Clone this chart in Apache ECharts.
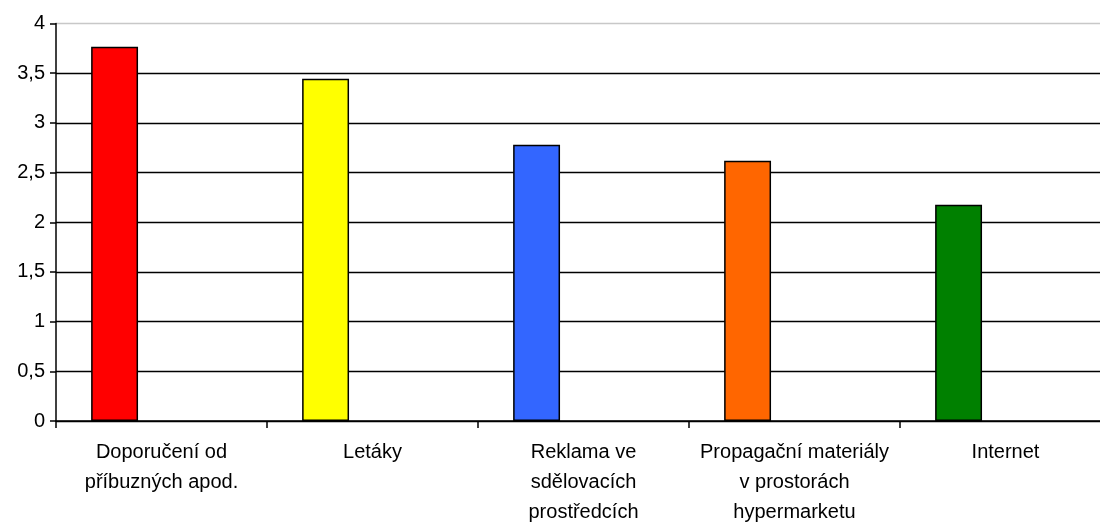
<!DOCTYPE html>
<html>
<head>
<meta charset="utf-8">
<script src="https://cdn.jsdelivr.net/npm/echarts@6/dist/echarts.min.js"></script>
<style>html,body{margin:0;padding:0;background:#fff;}#c{width:1100px;height:522px;}</style>
</head>
<body>
<div id="c"></div>
<script>
const categories = [
  "Doporučení od\npříbuzných apod.",
  "Letáky",
  "Reklama ve\nsdělovacích\nprostředcích",
  "Propagační materiály\nv prostorách\nhypermarketu",
  "Internet"
];
const values = [3.765, 3.443, 2.78, 2.62, 2.176];
const barColors = ["#FF0000", "#FFFF00", "#3366FF", "#FF6600", "#008000"];
const yMin = 0, yMax = 4, yStep = 0.5;

const chart = echarts.init(document.getElementById('c'), null, {renderer: 'canvas'});
const font = 'Liberation Sans, Arial, sans-serif';
const gridColors = ['#000','#000','#000','#000','#000','#000','#000','#000','#c8c8c8'];
chart.setOption({
  animation: false,
  backgroundColor: '#fff',
  grid: {left: 56, top: 23.5, right: -11, bottom: 101, containLabel: false, outerBoundsMode: 'none'},
  xAxis: {
    type: 'category',
    data: categories,
    axisLine: {show: true, lineStyle: {color: '#000', width: 1.5}},
    axisTick: {show: true, alignWithLabel: false, length: 7, lineStyle: {color: '#000', width: 1.5}},
    axisLabel: {color: '#000', fontFamily: font, fontSize: 20, lineHeight: 30, margin: 16, interval: 0}
  },
  yAxis: {
    type: 'value',
    min: yMin, max: yMax, interval: yStep,
    axisLine: {show: true, lineStyle: {color: '#000', width: 1.5}},
    axisTick: {show: true, length: 6, lineStyle: {color: '#000', width: 1.5}},
    axisLabel: {color: '#000', fontFamily: font, fontSize: 20, margin: 11,
      formatter: v => String(v).replace('.', ',')},
    splitLine: {show: true, lineStyle: {color: gridColors, width: 1.3}}
  },
  series: [
    {type: 'bar', barGap: 0, barCategoryGap: '33.3%',
     data: values.map((v, i) => ({value: v, itemStyle: {color: barColors[i]}})),
     itemStyle: {borderColor: '#000', borderWidth: 1.5}},
    {type: 'bar', data: values.map(() => null)},
    {type: 'bar', data: values.map(() => null)}
  ]
});
</script>
</body>
</html>
